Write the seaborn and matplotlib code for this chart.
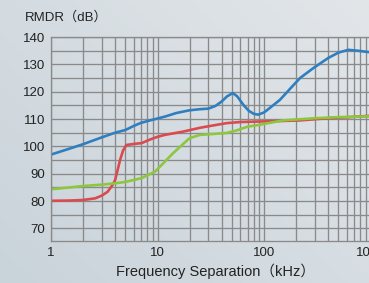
# RMDR vs frequency separation chart
import numpy as np
import pandas as pd
import matplotlib
matplotlib.use("Agg")
import matplotlib.pyplot as plt
import seaborn as sns
from matplotlib.colors import LinearSegmentedColormap
from matplotlib.ticker import FixedLocator, LogLocator, NullFormatter

# ── Data ──────────────────────────────────────────────────────────────────────

blue_freq = [1, 1.5, 2, 3, 4, 5, 6, 7, 8.5, 10, 12, 15, 20, 25, 30, 35, 40, 45,
             51, 56, 64, 72, 80, 88, 100, 113, 141, 180, 218, 290, 400, 500,
             620, 750, 1000]
blue_db = [97.0, 99.2, 100.8, 103.3, 105.0, 106.0, 107.5, 108.6, 109.5, 110.2,
           111.0, 112.2, 113.2, 113.6, 113.8, 114.8, 116.4, 118.3, 119.5, 118.3,
           115.2, 113.0, 111.9, 111.6, 112.4, 114.0, 117.0, 121.5, 125.0, 128.6,
           132.3, 134.3, 135.3, 135.0, 134.4]

red_freq = [1, 1.5, 2, 2.6, 3.0, 3.4, 3.8, 4.0, 4.2, 4.45, 4.75, 5.1, 6.0, 7.1,
            8.5, 10, 11.7, 17.4, 25, 35, 44.5, 60, 91, 150, 218, 400, 700, 1000]
red_db = [80.1, 80.2, 80.4, 81.0, 82.0, 83.4, 86.0, 87.7, 91.0, 95.0, 98.5,
          100.5, 100.9, 101.2, 102.5, 103.5, 104.2, 105.4, 106.8, 107.8, 108.5,
          108.9, 109.1, 109.3, 109.5, 110.3, 110.8, 111.2]

green_freq = [1, 2, 3, 4, 5, 7.1, 9.5, 11.7, 14, 17, 20, 25, 35, 44.5, 55, 70,
              91, 150, 300, 500, 1000]
green_db = [84.3, 85.5, 86.0, 86.5, 87.0, 88.4, 90.8, 94.4, 97.5, 100.5, 103.0,
            104.2, 104.6, 104.9, 105.8, 107.2, 107.9, 109.5, 110.3, 110.7, 111.0]

x_ticks = [1, 10, 100, 1000]
y_ticks = [70, 80, 90, 100, 110, 120, 130, 140]

BG = "#d9dfe3"
GRID = "#8a8a8a"

# ── Figure ────────────────────────────────────────────────────────────────────

sns.set_theme(style="white")
plt.rcParams["font.family"] = ["Liberation Sans", "Noto Sans CJK JP", "DejaVu Sans"]

fig = plt.figure(figsize=(3.69, 2.83), dpi=100, facecolor=BG)

# soft diagonal background gradient (darker bottom-left, lighter top-right)
bg_ax = fig.add_axes([0, 0, 1, 1], zorder=-10)
gx, gy = np.meshgrid(np.linspace(0, 1, 200), np.linspace(0, 1, 200))
grad = (gx * 0.55 + (1 - gy) * 0.45)
bg_cmap = LinearSegmentedColormap.from_list("bg", ["#c9d3da", "#e2e6e9"])
bg_ax.imshow(grad, cmap=bg_cmap, aspect="auto", extent=[0, 1, 0, 1])
bg_ax.axis("off")

ax = fig.add_axes([51 / 369, 42 / 283, 319.5 / 369, 204 / 283])
ax.patch.set_alpha(0)

for fr, db, col in [(blue_freq, blue_db, "#2f7fc0"),
                    (red_freq, red_db, "#d94b4e"),
                    (green_freq, green_db, "#8dc63f")]:
    sns.lineplot(x=fr, y=db, color=col, linewidth=1.9, ax=ax, sort=False)

ax.set_xscale("log")
ax.set_xlim(1, 1000)
ax.set_ylim(65.4, 140)

ax.xaxis.set_major_locator(FixedLocator(x_ticks))
ax.xaxis.set_minor_locator(LogLocator(base=10, subs=np.arange(2, 10)))
ax.xaxis.set_minor_formatter(NullFormatter())
ax.set_xticklabels([str(t) for t in x_ticks])
ax.yaxis.set_major_locator(FixedLocator(y_ticks))
ax.yaxis.set_minor_locator(FixedLocator(np.arange(65, 141, 5)))

ax.grid(True, which="both", color=GRID, linewidth=0.95)
ax.set_axisbelow(True)
ax.tick_params(which="both", length=0, labelsize=9.5, colors="#222222", pad=4)

for side in ["left", "bottom", "top"]:
    ax.spines[side].set_color(GRID)
    ax.spines[side].set_linewidth(0.95)
ax.spines["right"].set_visible(False)

ax.set_xlabel("")
ax.set_ylabel("")

fig.text(25 / 369, 1 - 17 / 283, "RMDR（dB）", fontsize=9.5, color="#222222",
         va="center", ha="left")
fig.text(216 / 369, 1 - 271 / 283, "Frequency Separation（kHz）", fontsize=10.5,
         color="#222222", va="center", ha="center")

fig.savefig("out.png", dpi=100)
